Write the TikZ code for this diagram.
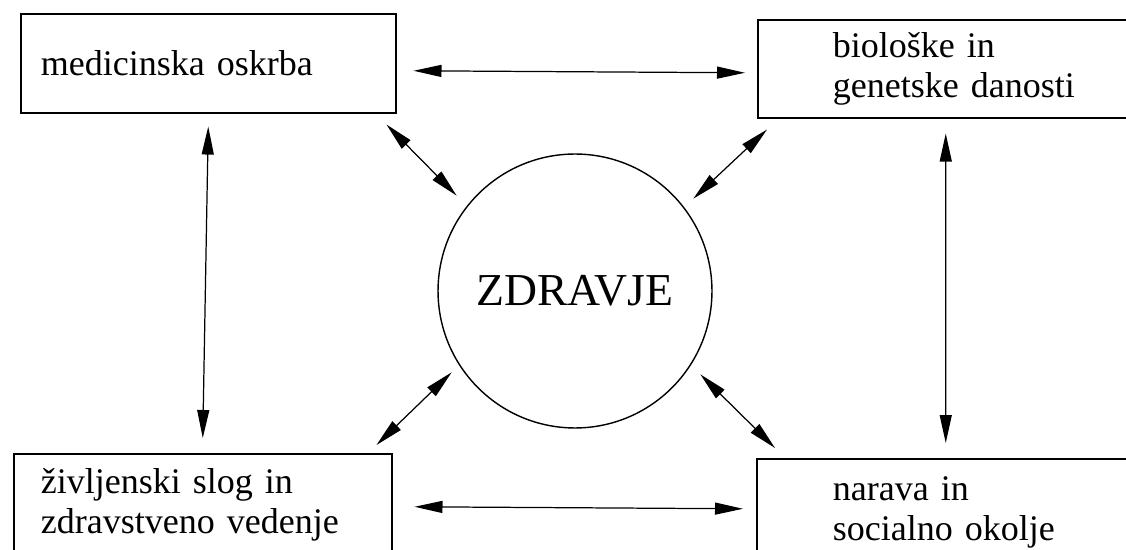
\documentclass[tikz,border=0pt]{standalone}
\usepackage{fontspec}
\setmainfont{Liberation Serif}
\usetikzlibrary{arrows.meta}

\tikzset{
  zd base/.style={font=\fontsize{20.5}{22.8}\selectfont},
  zd box/.style={draw, rectangle, line width=0.9pt, inner ysep=0pt,
    align=left, anchor=north west},
  zd circle/.style={draw, circle, line width=0.8pt, inner sep=0pt,
    minimum size=5.48cm, font=\fontsize{26}{30}\selectfont},
  zd arrow/.style={line width=0.7pt, <->,
    >={Triangle[length=0.56cm,width=0.24cm]}},
}

\begin{document}
\begin{tikzpicture}[
    zd base,
    x=0.02cm, y=-0.02cm,
    box/.style={zd box},
    arrow/.style={zd arrow}
]
\useasboundingbox (0,0) rectangle (1126,550);

\node (med) [box, inner xsep=0.4cm, text width=6.7cm, minimum height=1.98cm]
  at (20,13) {medicinska oskrba};
\node (bio) [box, inner xsep=1.5cm, text width=5cm, minimum height=1.96cm]
  at (757,19) {biološke in\\ genetske danosti};
\node (ziv) [box, inner xsep=0.54cm, text width=6.48cm, minimum height=2.04cm]
  at (13,453) {življenski slog in\\ zdravstveno vedenje};
\node (nar) [box, inner xsep=1.52cm, text width=4.96cm, minimum height=2.16cm]
  at (756,458) {narava in\\ socialno okolje};
\node (zdr) [zd circle] at (575,291) {ZDRAVJE};

\draw [arrow] ([shift={(17,7.5)}]med.east) -- ([shift={(-12,4)}]bio.west);
\draw [arrow] ([shift={(22,2)}]ziv.east) -- ([shift={(-13,-4)}]nar.west);
\draw [arrow] ([shift={(0,13)}]med.south) -- ([shift={(0,-15)}]ziv.north);
\draw [arrow] ([shift={(-12,15)}]bio.south) -- ([shift={(-11,-15)}]nar.north);
\draw [arrow] ([shift={(-10,11)}]med.south east) -- ([shift={(-21,2)}]zdr.north west);
\draw [arrow] ([shift={(10,11)}]bio.south west) -- ([shift={(21,5)}]zdr.north east);
\draw [arrow] ([shift={(-16,-8)}]ziv.north east) -- ([shift={(-26,-16)}]zdr.south west);
\draw [arrow] ([shift={(19,-10)}]nar.north west) -- ([shift={(28,-14)}]zdr.south east);
\end{tikzpicture}
\end{document}
